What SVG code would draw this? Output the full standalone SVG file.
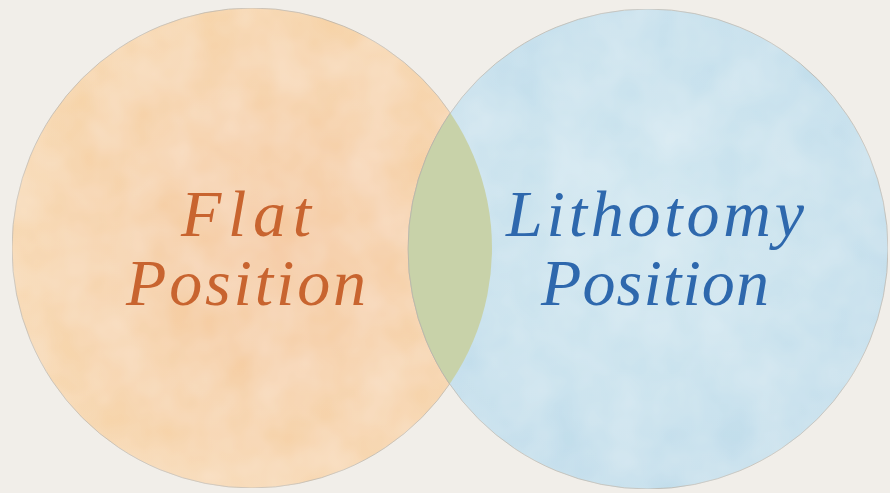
<svg xmlns="http://www.w3.org/2000/svg" width="890" height="493" viewBox="0 0 890 493">
  <defs>
    <style>
      .lbl { font-family: "Liberation Serif", "DejaVu Serif", serif; font-style: italic; font-size: 66px; text-anchor: middle; }
      .orange { fill: #c8642f; }
      .blue { fill: #2e68ad; }
      .edge { stroke: #b9b2a8; stroke-width: 0.8; }
    </style>
    <radialGradient id="gOrange" cx="0.55" cy="0.5" r="0.6">
      <stop offset="0" stop-color="#f5c9a0"/>
      <stop offset="1" stop-color="#f7d6ab"/>
    </radialGradient>
    <radialGradient id="gBlue" cx="0.5" cy="0.45" r="0.6">
      <stop offset="0" stop-color="#cfe6f0"/>
      <stop offset="1" stop-color="#bfdcea"/>
    </radialGradient>
    <clipPath id="clipLeft">
      <circle cx="252" cy="248" r="240"/>
    </clipPath>
    <filter id="tex" x="0" y="0" width="100%" height="100%">
      <feTurbulence type="fractalNoise" baseFrequency="0.02" numOctaves="3" seed="4" result="n"/>
      <feColorMatrix in="n" type="matrix" values="0 0 0 0 1  0 0 0 0 1  0 0 0 0 1  0 0 0 0.35 -0.05" result="w"/>
      <feComposite in="w" in2="SourceGraphic" operator="in" result="wc"/>
      <feMerge><feMergeNode in="SourceGraphic"/><feMergeNode in="wc"/></feMerge>
    </filter>
  </defs>
  <rect width="890" height="493" fill="#f1eee9"/>
  <g id="flat">
    <circle cx="252" cy="248" r="240" fill="url(#gOrange)" class="edge" filter="url(#tex)"/>
  </g>
  <g id="lithotomy">
    <circle cx="648" cy="249" r="240" fill="url(#gBlue)" class="edge" filter="url(#tex)"/>
  </g>
  <g id="overlap">
    <circle cx="648" cy="249" r="240" fill="#c8d2a9" clip-path="url(#clipLeft)" class="edge"/>
  </g>
  <g id="labels">
    <text class="lbl orange" x="246" y="236" textLength="130" lengthAdjust="spacing">Flat</text>
    <text class="lbl orange" x="246" y="305" textLength="240" lengthAdjust="spacing">Position</text>
    <text class="lbl blue" x="655" y="236" textLength="298" lengthAdjust="spacing">Lithotomy</text>
    <text class="lbl blue" x="655" y="305" textLength="228" lengthAdjust="spacing">Position</text>
  </g>
</svg>
